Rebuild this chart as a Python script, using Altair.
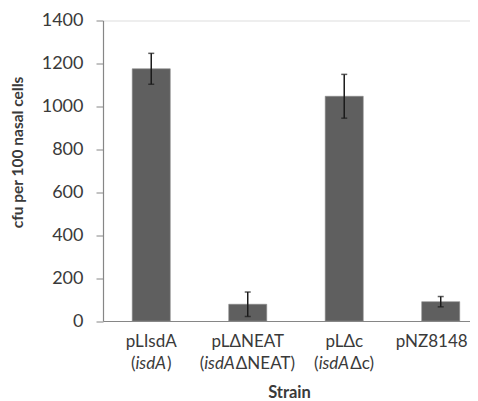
import altair as alt
import pandas as pd

# ---- data ----
strains = ["pLIsdA", "pLΔNEAT", "pLΔc", "pNZ8148"]
line2_pre = ["(", "(", "(", ""]
line2_ital = ["isdA", "isdA", "isdA", ""]
line2_post = [")", "ΔNEAT)", "Δc)", ""]
means = [1175, 78, 1047, 90]
errors = [72, 57, 102, 24]
y_ticks = [0, 200, 400, 600, 800, 1000, 1200, 1400]

df = pd.DataFrame({"strain": strains, "mean": means, "err": errors})
df["lo"] = df["mean"] - df["err"]
df["hi"] = df["mean"] + df["err"]

W, H = 367, 300.5
FONT = "Lato"
LBL = 17
GREY_TXT = "#3a3a3a"
AX = "#868686"

# rough glyph widths (em) to lay out mixed roman/italic label pieces
CW = {"(": .30, ")": .30, "i": .23, "s": .39, "d": .56, "c": .47,
      "A": .68, "N": .75, "E": .57, "T": .58, "Δ": .68}


def tw(s):
    return sum(CW.get(ch, .55) for ch in s) * LBL


xscale = alt.Scale(domain=strains, paddingInner=0.606, paddingOuter=0.2047, align=0.74)
xs = alt.X("strain:N", sort=strains, scale=xscale)
x = alt.X("strain:N", sort=strains, scale=xscale,
          axis=alt.Axis(title="Strain", labels=False, ticks=False, tickSize=0,
                        titleFont=FONT, titleFontSize=16.5, titleFontWeight="bold",
                        titleColor=GREY_TXT, titleBaseline="alphabetic",
                        titleY=76, titleX=186,
                        domainColor=AX, domainWidth=1.2, grid=False))
y = alt.Y("mean:Q", scale=alt.Scale(domain=[0, 1400], nice=False, zero=True),
          axis=alt.Axis(title="cfu per 100 nasal cells", values=y_ticks, format="d",
                        tickSize=7, tickColor=AX, domainColor=AX, domainWidth=1.2,
                        labelPadding=13, labelFont=FONT, labelFontSize=18,
                        labelColor=GREY_TXT, grid=False,
                        titleFont=FONT, titleFontSize=15.5, titleFontWeight="bold",
                        titleColor=GREY_TXT, titleAngle=-90, titleBaseline="top",
                        titleAlign="center", titleX=-93, titleY=131.5))

base = alt.Chart(df)
bars = base.mark_bar(color="#5f5f5f", stroke="#8a8a8a", strokeWidth=0.6).encode(x=x, y=y)
rules = base.mark_rule(color="#1a1a1a", strokeWidth=1.5).encode(x=xs, y="lo:Q", y2="hi:Q")
cap_lo = base.mark_tick(color="#1a1a1a", thickness=1.5, size=6).encode(x=xs, y="lo:Q")
cap_hi = base.mark_tick(color="#1a1a1a", thickness=1.5, size=6).encode(x=xs, y="hi:Q")

common = dict(font=FONT, fontSize=LBL, color=GREY_TXT, baseline="alphabetic")
layers = [bars, rules, cap_lo, cap_hi]

# first label line (roman); the last one nudged left to stay inside the page
lab1 = pd.DataFrame({"strain": strains, "t": strains})
layers.append(alt.Chart(lab1.iloc[:3]).mark_text(align="center", **common)
              .encode(x=xs, y=alt.value(H + 25.5), text="t:N"))
layers.append(alt.Chart(lab1.iloc[3:]).mark_text(align="center", dx=-9, **common)
              .encode(x=xs, y=alt.value(H + 25.5), text="t:N"))

# second label line: roman brackets / italic gene name / roman suffix
for i, s in enumerate(strains):
    if not line2_ital[i]:
        continue
    wp, wi, wq = tw(line2_pre[i]), tw(line2_ital[i]), tw(line2_post[i])
    start = -(wp + wi + wq) / 2
    sub = pd.DataFrame({"strain": [s], "pre": [line2_pre[i]],
                        "ital": [line2_ital[i]], "post": [line2_post[i]]})
    enc = dict(x=xs, y=alt.value(H + 47.5))
    layers.append(alt.Chart(sub).mark_text(align="right", dx=start + wp, **common)
                  .encode(text="pre:N", **enc))
    layers.append(alt.Chart(sub).mark_text(align="left", dx=start + wp, fontStyle="italic", **common)
                  .encode(text="ital:N", **enc))
    layers.append(alt.Chart(sub).mark_text(align="left", dx=start + wp + wi, **common)
                  .encode(text="post:N", **enc))

chart = alt.layer(*layers).properties(
    width=W, height=H,
    autosize=alt.AutoSizeParams(type="none"),
    padding={"left": 95, "top": 12.5, "right": 0, "bottom": 80},
).configure_view(stroke=None).configure(background="white")

chart.save("out.html", embed_options={"renderer": "svg", "actions": False})
